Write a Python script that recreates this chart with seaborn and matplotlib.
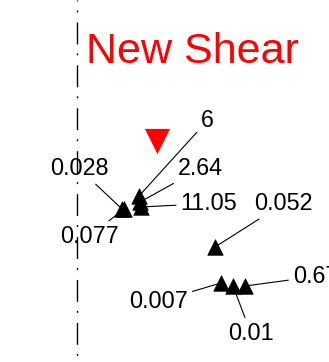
import matplotlib
matplotlib.use('Agg')
import matplotlib.pyplot as plt
import seaborn as sns
import pandas as pd

sns.set_style('white')
plt.rcParams['font.family'] = ['Liberation Sans', 'DejaVu Sans']

## sample points (plot units, y grows downward)
pt_x = [122, 124, 139, 140, 141, 215, 221, 233, 245]
pt_y = [209, 209, 196, 202, 207, 247, 283, 286, 286]
pt_lab = ['0.028', '0.077', '6', '2.64', '11.05', '0.052', '0.007', '0.01', '0.67']

## the new shear point
shear_x = [157]
shear_y = [141]

## reference line
ref_x = 77

## label placement (x, baseline y, alignment)
lab_x = [79, 89, 207.5, 200.5, 209, 283.5, 158.5, 251, 293]
lab_y = [175, 243, 127, 175, 210, 210, 308, 340, 283]
lab_ha = ['center'] * 8 + ['left']

fig = plt.figure(figsize=(3.29, 3.62), dpi=100)
ax = fig.add_axes([0, 0, 1, 1])

ax.plot([ref_x, ref_x], [0, 362], color='black', lw=1.0,
        linestyle=(15.1, (15.8, 6.5, 1.4, 7.2)), zorder=1)

for i in range(len(pt_lab)):
    ax.annotate(pt_lab[i], xy=(pt_x[i], pt_y[i]), xytext=(lab_x[i], lab_y[i]),
                ha=lab_ha[i], va='baseline', fontsize=16.8, color='black',
                arrowprops=dict(arrowstyle='-', color='black', lw=0.8,
                                shrinkA=1, shrinkB=0), zorder=2)

df = pd.DataFrame({'x': pt_x, 'y': pt_y})
sns.scatterplot(data=df, x='x', y='y', marker='^', s=125, color='black',
                edgecolor='black', linewidth=0.5, ax=ax, zorder=3)
sns.scatterplot(x=shear_x, y=shear_y, marker='v', s=330, color='red',
                linewidth=0, ax=ax, zorder=3)

ax.text(192.5, 63, 'New Shear', color='red', fontsize=31, ha='center', va='baseline')

ax.set_xlim(0, 329)
ax.set_ylim(362, 0)
ax.axis('off')

plt.savefig('out.png', dpi=100)
